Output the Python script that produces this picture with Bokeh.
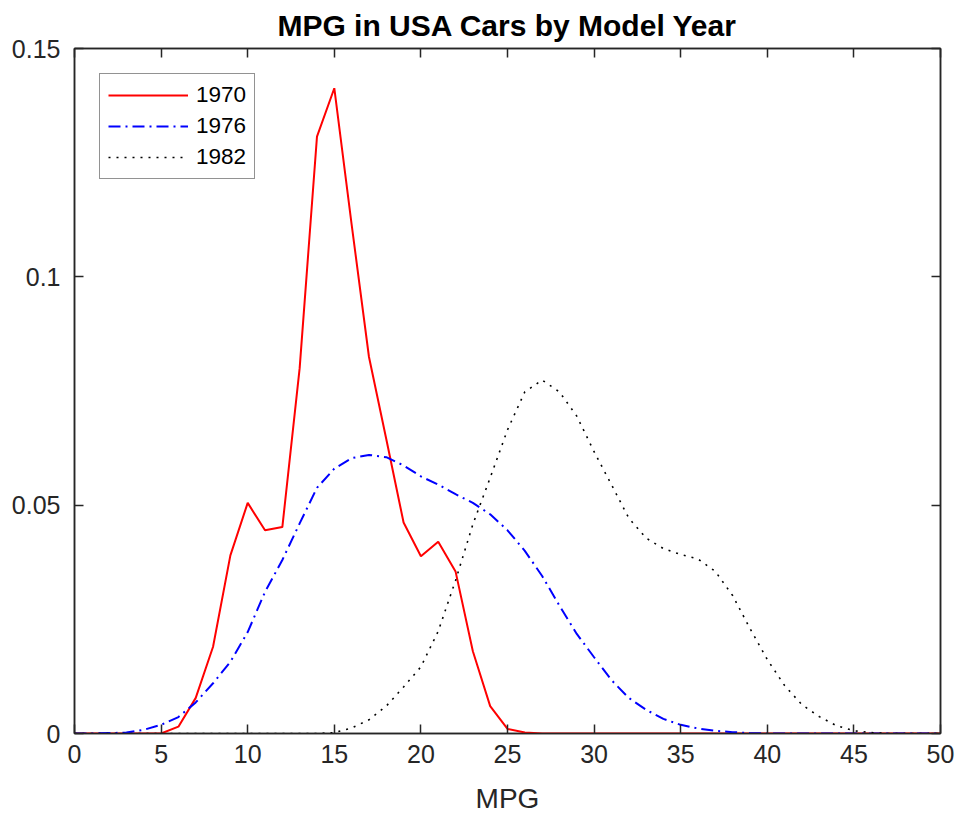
from bokeh.plotting import figure
from bokeh.models import (FixedTicker, LinearAxis, Legend, LegendItem,
                          CustomJSTickFormatter, Range1d)
from bokeh.embed import file_html
from bokeh.resources import INLINE

# ---- data ----
mpg_grid = [0, 1, 2, 3, 4, 5, 6, 7, 8, 9, 10, 11, 12, 13, 14, 15, 16, 17, 18, 19,
            20, 21, 22, 23, 24, 25, 26, 27, 28, 29, 30, 31, 32, 33, 34, 35, 36, 37,
            38, 39, 40, 41, 42, 43, 44, 45, 46, 47, 48, 49, 50]

density_1970 = [0, 0, 0, 0, 0, 0, 0.0015, 0.0078, 0.019, 0.039, 0.0505, 0.0445, 0.0452,
                0.080, 0.1307, 0.1413, 0.1115, 0.0825, 0.0645, 0.0462, 0.0388, 0.042,
                0.0355, 0.018, 0.006, 0.001, 0.0002, 0, 0, 0, 0, 0, 0, 0, 0, 0, 0, 0,
                0, 0, 0, 0, 0, 0, 0, 0, 0, 0, 0, 0, 0]

density_1976 = [0, 0, 0.0001, 0.0002, 0.0008, 0.0019, 0.0036, 0.0068, 0.011, 0.0157,
                0.0222, 0.031, 0.038, 0.046, 0.0538, 0.058, 0.0603, 0.061, 0.0605,
                0.0587, 0.0563, 0.0545, 0.0524, 0.0505, 0.048, 0.0445, 0.040, 0.0345,
                0.028, 0.0218, 0.0167, 0.0117, 0.0078, 0.0052, 0.0032, 0.0019, 0.0011,
                0.0006, 0.0003, 0.0001, 0, 0, 0, 0, 0, 0, 0, 0, 0, 0, 0]

density_1982 = [0, 0, 0, 0, 0, 0, 0, 0, 0, 0, 0, 0, 0, 0, 0, 0.0002, 0.0012, 0.003,
                0.006, 0.0102, 0.0146, 0.0224, 0.0335, 0.0458, 0.056, 0.0665, 0.0748,
                0.0774, 0.0748, 0.0695, 0.0617, 0.0545, 0.0472, 0.0428, 0.0405, 0.0392,
                0.0382, 0.0355, 0.0302, 0.023, 0.0162, 0.0105, 0.0063, 0.0037, 0.0017,
                0.0006, 0.0002, 0, 0, 0, 0]

series_labels = ["1970", "1976", "1982"]
x_ticks = [0, 5, 10, 15, 20, 25, 30, 35, 40, 45, 50]
y_ticks = [0, 0.05, 0.1, 0.15]

FONT = "Liberation Sans"
AX = "#262626"

p = figure(frame_width=866, frame_height=685,
           x_range=Range1d(0, 50), y_range=Range1d(0, 0.15),
           output_backend="svg", toolbar_location=None,
           min_border_left=74, min_border_right=18,
           min_border_top=48, min_border_bottom=82,
           title="MPG in USA Cars by Model Year")

p.title.text_font = FONT
p.title.text_font_size = "30px"
p.title.text_font_style = "bold"
p.title.text_color = "#000000"
p.title.align = "center"
p.title.standoff = 13

p.grid.visible = False
p.outline_line_color = AX
p.outline_line_width = 1.5
p.background_fill_color = "white"
p.border_fill_color = "white"

fmt = CustomJSTickFormatter(code="return String(Math.round(tick*1000)/1000);")

for ax in (p.xaxis[0], p.yaxis[0]):
    ax.major_tick_in = 9
    ax.major_tick_out = 0
    ax.minor_tick_line_color = None
    ax.axis_line_color = AX
    ax.axis_line_width = 1.5
    ax.major_tick_line_color = AX
    ax.major_tick_line_width = 1.5
    ax.major_label_text_font = FONT
    ax.major_label_text_font_size = "25px"
    ax.major_label_text_color = AX
    ax.formatter = fmt

p.xaxis[0].ticker = FixedTicker(ticks=x_ticks)
p.yaxis[0].ticker = FixedTicker(ticks=y_ticks)
p.xaxis[0].major_label_standoff = 11
p.yaxis[0].major_label_standoff = 14
p.xaxis[0].axis_label = "MPG"
p.xaxis[0].axis_label_text_font = FONT
p.xaxis[0].axis_label_text_font_size = "28px"
p.xaxis[0].axis_label_text_font_style = "normal"
p.xaxis[0].axis_label_text_color = AX
p.xaxis[0].axis_label_standoff = 17

empty = CustomJSTickFormatter(code="return '';")
top_ax = LinearAxis(ticker=FixedTicker(ticks=x_ticks), formatter=empty,
                    major_tick_in=9, major_tick_out=0, minor_tick_line_color=None,
                    axis_line_color=AX, axis_line_width=1.5, major_tick_line_color=AX,
                    major_tick_line_width=1.5, major_label_text_font_size="0px",
                    major_label_standoff=0)
right_ax = LinearAxis(ticker=FixedTicker(ticks=y_ticks), formatter=empty,
                      major_tick_in=9, major_tick_out=0, minor_tick_line_color=None,
                      axis_line_color=AX, axis_line_width=1.5, major_tick_line_color=AX,
                      major_tick_line_width=1.5, major_label_text_font_size="0px",
                      major_label_standoff=0)
p.add_layout(top_ax, "above")
p.add_layout(right_ax, "right")

r1 = p.line(mpg_grid, density_1970, line_color="#ff0000", line_width=2)
r2 = p.line(mpg_grid, density_1976, line_color="#0000ff", line_width=2,
            line_dash="12 5 2 5")
r3 = p.line(mpg_grid, density_1982, line_color="#000000", line_width=1.6,
            line_dash="2 6")

legend = Legend(items=[LegendItem(label=series_labels[0], renderers=[r1]),
                       LegendItem(label=series_labels[1], renderers=[r2]),
                       LegendItem(label=series_labels[2], renderers=[r3])],
                location="top_left", margin=25, padding=8, spacing=5,
                glyph_width=80, glyph_height=20, label_standoff=8,
                label_text_font=FONT, label_text_font_size="22.5px",
                label_text_color="#000000",
                border_line_color=AX, border_line_width=1.5,
                background_fill_color="white", background_fill_alpha=1)
p.add_layout(legend)

open("out.html", "w").write(file_html(p, INLINE))
